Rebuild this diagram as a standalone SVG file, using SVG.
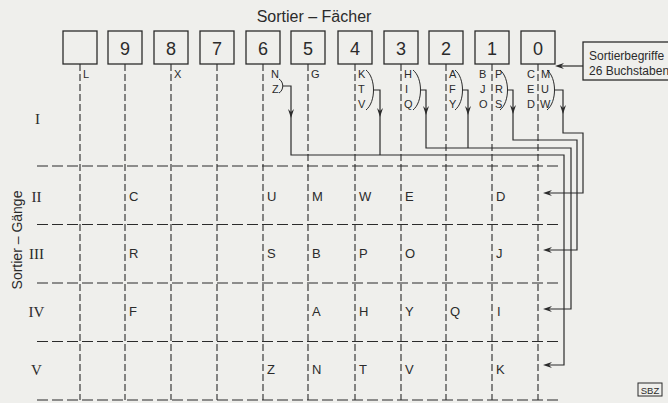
<svg xmlns="http://www.w3.org/2000/svg" xmlns:xlink="http://www.w3.org/1999/xlink" width="668" height="403" viewBox="0 0 668 403">
<style>
.bg{fill:#efefec}
.box{fill:none;stroke:#2b2b2b;stroke-width:1.3}
.num{font-family:"Liberation Sans",Arial,sans-serif;font-size:18px;fill:#2b2b2b;text-anchor:middle}
.vd{stroke:#2b2b2b;stroke-width:1.1;stroke-dasharray:7 3;fill:none}
.hd{stroke:#2b2b2b;stroke-width:1.1;stroke-dasharray:11 4;fill:none}
.sm{font-family:"Liberation Sans",Arial,sans-serif;font-size:11px;fill:#2b2b2b}
.gl{font-family:"Liberation Sans",Arial,sans-serif;font-size:13px;fill:#2b2b2b}
.rn{font-family:"Liberation Serif","Times New Roman",serif;font-size:15px;fill:#2b2b2b;text-anchor:middle}
.ttl{font-family:"Liberation Sans",Arial,sans-serif;font-size:16px;fill:#2b2b2b}
.con{fill:none;stroke:#2b2b2b;stroke-width:1.2}
.br{fill:none;stroke:#2b2b2b;stroke-width:1}
.ah{fill:#2b2b2b}
</style>
<defs>
<path id="ad" d="M0,0 L-3,-9 L0,-6 L3,-9 Z"/>
<path id="al" d="M0,0 L9,-3 L6,0 L9,3 Z"/>
</defs>
<rect class="bg" x="0" y="0" width="668" height="403"/>

<text class="ttl" x="314" y="22" text-anchor="middle">Sortier – Fächer</text>

<g id="grid">
<path class="vd" d="M80 64V400M125 64V400M171 64V400M217 64V400M263 64V400M308 64V400M355 64V400M401 64V400M446 64V400M492 64V400M538 64V400"/>
<path class="hd" d="M37 166H558M37 224.5H558M37 283H558M37 341.5H558M37 400H558"/>
</g>

<g id="fach-leer"><rect class="box" x="63" y="31" width="34" height="33"/></g>
<g id="fach-9"><rect class="box" x="108" y="31" width="34" height="33"/><text class="num" x="125" y="55">9</text></g>
<g id="fach-8"><rect class="box" x="154" y="31" width="34" height="33"/><text class="num" x="171" y="55">8</text></g>
<g id="fach-7"><rect class="box" x="200" y="31" width="34" height="33"/><text class="num" x="217" y="55">7</text></g>
<g id="fach-6"><rect class="box" x="246" y="31" width="34" height="33"/><text class="num" x="263" y="55">6</text></g>
<g id="fach-5"><rect class="box" x="291" y="31" width="34" height="33"/><text class="num" x="308" y="55">5</text></g>
<g id="fach-4"><rect class="box" x="338" y="31" width="34" height="33"/><text class="num" x="355" y="55">4</text></g>
<g id="fach-3"><rect class="box" x="384" y="31" width="34" height="33"/><text class="num" x="401" y="55">3</text></g>
<g id="fach-2"><rect class="box" x="429" y="31" width="34" height="33"/><text class="num" x="446" y="55">2</text></g>
<g id="fach-1"><rect class="box" x="475" y="31" width="34" height="33"/><text class="num" x="492" y="55">1</text></g>
<g id="fach-0"><rect class="box" x="521" y="31" width="34" height="33"/><text class="num" x="538" y="55">0</text></g>

<g id="legende">
<rect class="box" x="583" y="42" width="95" height="38"/>
<text class="sm" x="589" y="60" style="font-size:12px">Sortierbegriffe</text>
<text class="sm" x="589" y="75" style="font-size:12px">26 Buchstaben</text>
</g>

<g id="labels-oben">
<text class="sm" x="83" y="78">L</text>
<text class="sm" x="174" y="78">X</text>
<text class="sm" x="271" y="78">N</text>
<text class="sm" x="272" y="93">Z</text>
<text class="sm" x="311" y="78">G</text>
<text class="sm" x="358" y="78">K</text>
<text class="sm" x="358" y="93">T</text>
<text class="sm" x="358" y="108">V</text>
<text class="sm" x="404" y="78">H</text>
<text class="sm" x="405" y="93">I</text>
<text class="sm" x="404" y="108">Q</text>
<text class="sm" x="449" y="78">A</text>
<text class="sm" x="449" y="93">F</text>
<text class="sm" x="449" y="108">Y</text>
<text class="sm" x="479" y="78">B</text>
<text class="sm" x="480" y="93">J</text>
<text class="sm" x="479" y="108">O</text>
<text class="sm" x="495" y="78">P</text>
<text class="sm" x="495" y="93">R</text>
<text class="sm" x="495" y="108">S</text>
<text class="sm" x="527" y="78">C</text>
<text class="sm" x="527" y="93">E</text>
<text class="sm" x="527" y="108">D</text>
<text class="sm" x="541" y="78">M</text>
<text class="sm" x="541" y="93">U</text>
<text class="sm" x="540" y="108">W</text>
</g>

<g id="klammern">
<path class="br" d="M279 79C284 82 284 90 279 93"/>
<path class="br" d="M366 70C376 78 376 102 366 110"/>
<path class="br" d="M413 70C423 78 423 102 413 110"/>
<path class="br" d="M455 70C465 78 465 102 455 110"/>
<path class="br" d="M500 70C510 78 510 102 500 110"/>
<path class="br" d="M547 70C557 78 557 102 547 110"/>
</g>

<g id="connectors">
<path class="con" d="M283 86H291V155H564V365H546"/>
<path class="con" d="M374 90H380V155"/>
<path class="con" d="M421 90H426V148H571V309H546"/>
<path class="con" d="M463 90H468V148"/>
<path class="con" d="M508 90H513V140H577V250H546"/>
<path class="con" d="M555 90H563V133H583V193H546"/>
<path class="con" d="M583 66H558"/>
<use class="ah" xlink:href="#ad" x="291" y="118"/>
<use class="ah" xlink:href="#ad" x="380" y="117"/>
<use class="ah" xlink:href="#ad" x="426" y="115"/>
<use class="ah" xlink:href="#ad" x="468" y="115"/>
<use class="ah" xlink:href="#ad" x="513" y="114"/>
<use class="ah" xlink:href="#ad" x="563" y="114"/>
<use class="ah" xlink:href="#al" x="543" y="193"/>
<use class="ah" xlink:href="#al" x="543" y="250"/>
<use class="ah" xlink:href="#al" x="543" y="309"/>
<use class="ah" xlink:href="#al" x="543" y="365"/>
<use class="ah" xlink:href="#al" x="555" y="66"/>
</g>

<g id="gaenge">
<text class="rn" x="37.5" y="124">I</text>
<text class="rn" x="36.5" y="202">II</text>
<text class="rn" x="36.5" y="259">III</text>
<text class="rn" x="36.5" y="317">IV</text>
<text class="rn" x="36.5" y="375">V</text>
<text class="ttl" transform="translate(22,240) rotate(-90)" text-anchor="middle" style="font-size:14px">Sortier – Gänge</text>
</g>

<g id="zeile-II">
<text class="gl" x="129" y="201">C</text>
<text class="gl" x="267" y="201">U</text>
<text class="gl" x="312" y="201">M</text>
<text class="gl" x="359" y="201">W</text>
<text class="gl" x="405" y="201">E</text>
<text class="gl" x="496" y="201">D</text>
</g>
<g id="zeile-III">
<text class="gl" x="129" y="258">R</text>
<text class="gl" x="267" y="258">S</text>
<text class="gl" x="312" y="258">B</text>
<text class="gl" x="359" y="258">P</text>
<text class="gl" x="405" y="258">O</text>
<text class="gl" x="496" y="258">J</text>
</g>
<g id="zeile-IV">
<text class="gl" x="129" y="316">F</text>
<text class="gl" x="312" y="316">A</text>
<text class="gl" x="359" y="316">H</text>
<text class="gl" x="405" y="316">Y</text>
<text class="gl" x="450" y="316">Q</text>
<text class="gl" x="497" y="316">I</text>
</g>
<g id="zeile-V">
<text class="gl" x="267" y="374">Z</text>
<text class="gl" x="312" y="374">N</text>
<text class="gl" x="359" y="374">T</text>
<text class="gl" x="405" y="374">V</text>
<text class="gl" x="496" y="374">K</text>
</g>

<g id="sbz">
<rect class="br" x="638" y="383" width="24" height="13"/>
<text class="sm" x="650" y="393.5" text-anchor="middle" style="font-size:9.5px">SBZ</text>
</g>
</svg>
